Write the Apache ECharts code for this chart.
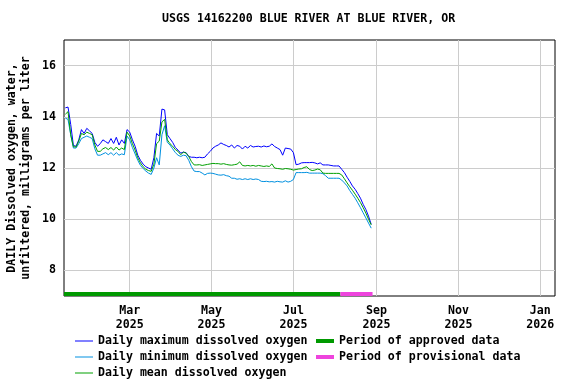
<!DOCTYPE html>
<html>
<head>
<meta charset="utf-8">
<script src="https://cdn.jsdelivr.net/npm/echarts@6/dist/echarts.min.js"></script>
<style>html,body{margin:0;padding:0;background:#fff;}#c{width:576px;height:384px;}</style>
</head>
<body>
<div id="c"></div>
<script>
// ---- data ----
const titleText = 'USGS 14162200 BLUE RIVER AT BLUE RIVER, OR';
const yAxisTitle = 'DAILY Dissolved oxygen, water,\nunfiltered, milligrams per liter';
const seriesNames = ['Daily maximum dissolved oxygen', 'Daily minimum dissolved oxygen', 'Daily mean dissolved oxygen'];
const periodNames = ['Period of approved data', 'Period of provisional data'];
const firstDate = [2025, 0, 12];   // first daily value shown
const dayStep = 2;                 // values are read every second day
const axisStart = [2025, 0, 11];
const axisEnd = [2026, 0, 12];
const yTicks = [8, 10, 12, 14, 16];
const xTickDates = [[2025, 2, 1], [2025, 4, 1], [2025, 6, 1], [2025, 8, 1], [2025, 10, 1], [2026, 0, 1]];
const monthNames = ['Jan','Feb','Mar','Apr','May','Jun','Jul','Aug','Sep','Oct','Nov','Dec'];
const approvedPeriod = [[2025, 0, 11], [2025, 7, 5]];
const provisionalPeriod = [[2025, 7, 5], [2025, 7, 29]];

const maxVals = [
14.35, 14.38, 13.7, 12.88, 12.85, 13.1, 13.5, 13.35, 13.55, 13.45,
13.35, 13.0, 12.85, 12.95, 13.1, 13.03, 12.96, 13.15, 12.96, 13.2,
12.9, 13.1, 12.96, 13.5, 13.4, 13.1, 12.85, 12.5, 12.3, 12.15,
12.05, 12.0, 11.95, 12.4, 13.35, 13.25, 14.3, 14.27, 13.3, 13.15,
13.0, 12.8, 12.7, 12.58, 12.62, 12.6, 12.45, 12.42, 12.42, 12.4,
12.42, 12.4, 12.42, 12.55, 12.65, 12.78, 12.85, 12.9, 12.98, 12.92,
12.88, 12.82, 12.9, 12.78, 12.88, 12.85, 12.74, 12.85, 12.78, 12.88,
12.82, 12.84, 12.85, 12.82, 12.86, 12.83, 12.85, 12.94, 12.84, 12.78,
12.72, 12.5, 12.78, 12.76, 12.74, 12.6, 12.13, 12.15, 12.2, 12.21,
12.21, 12.21, 12.22, 12.2, 12.16, 12.2, 12.12, 12.12, 12.12, 12.1,
12.08, 12.08, 12.08, 11.95, 11.82, 11.64, 11.48, 11.3, 11.17, 11.0, 10.82, 10.58, 10.38, 10.12, 9.8
];
const meanVals = [
14.1, 14.2, 13.3, 12.83, 12.82, 13.05, 13.35, 13.3, 13.4, 13.35,
13.3, 12.9, 12.65, 12.65, 12.75, 12.8, 12.72, 12.8, 12.7, 12.82,
12.7, 12.78, 12.72, 13.4, 13.25, 12.95, 12.7, 12.4, 12.2, 12.05,
11.95, 11.9, 11.87, 12.15, 12.95, 13.05, 13.8, 13.9, 13.1, 12.95,
12.85, 12.72, 12.65, 12.52, 12.62, 12.58, 12.45, 12.25, 12.12, 12.12,
12.13, 12.1, 12.12, 12.14, 12.16, 12.18, 12.17, 12.17, 12.15, 12.17,
12.14, 12.12, 12.11, 12.13, 12.15, 12.24, 12.1, 12.08, 12.1, 12.08,
12.1, 12.07, 12.1, 12.08, 12.06, 12.08, 12.06, 12.16, 12.0, 11.98,
11.97, 11.95, 11.98, 11.97, 11.95, 11.92, 11.94, 11.96, 11.97, 12.02,
12.05, 11.94, 11.9, 11.92, 11.96, 11.93, 11.8, 11.79, 11.79, 11.79,
11.79, 11.79, 11.79, 11.73, 11.58, 11.42, 11.27, 11.13, 10.98, 10.82, 10.65, 10.45, 10.24, 10.0, 9.78
];
const minVals = [
13.95, 13.9, 13.3, 12.78, 12.78, 12.95, 13.15, 13.2, 13.25, 13.2,
13.15, 12.75, 12.5, 12.5, 12.55, 12.6, 12.52, 12.6, 12.5, 12.6,
12.5, 12.55, 12.52, 13.25, 13.1, 12.8, 12.55, 12.3, 12.1, 11.98,
11.88, 11.8, 11.75, 12.0, 12.4, 12.12, 13.3, 13.65, 13.0, 12.9,
12.75, 12.6, 12.5, 12.45, 12.5, 12.48, 12.3, 12.05, 11.88, 11.86,
11.86, 11.8, 11.73, 11.79, 11.8, 11.79, 11.76, 11.73, 11.72, 11.74,
11.7, 11.68, 11.6, 11.6, 11.56, 11.58, 11.55, 11.58, 11.55, 11.58,
11.55, 11.57, 11.55, 11.48, 11.47, 11.48, 11.46, 11.47, 11.45, 11.48,
11.46, 11.45, 11.5, 11.45, 11.48, 11.55, 11.82, 11.82, 11.82, 11.82,
11.83, 11.8, 11.8, 11.8, 11.8, 11.8, 11.78, 11.7, 11.6, 11.6,
11.6, 11.6, 11.6, 11.53, 11.42, 11.3, 11.12, 10.97, 10.82, 10.64, 10.45, 10.25, 10.05, 9.85, 9.65
];

// ---- build ----
function ts(a) { return new Date(a[0], a[1], a[2]).getTime(); }
function pairs(vals) {
  return vals.map(function (v, i) {
    return [new Date(firstDate[0], firstDate[1], firstDate[2] + i * dayStep).getTime(), v];
  });
}
const FONT = 'DejaVu Sans Mono';
const FS = 11.6;
const barLevel = 7.08;
const xTicks = xTickDates.map(ts);

const chart = echarts.init(document.getElementById('c'), null, { renderer: 'canvas' });
chart.setOption({
  animation: false,
  backgroundColor: '#ffffff',
  textStyle: { fontFamily: FONT, fontWeight: 'bold', fontSize: FS, color: '#000' },
  title: {
    text: titleText, left: 162, top: 13, padding: 0,
    textStyle: { fontFamily: FONT, fontWeight: 'bold', fontSize: FS, color: '#000' }
  },
  grid: { left: 64, right: 21, top: 40, bottom: 88, outerBoundsMode: 'none', containLabel: false,
    show: true, borderColor: '#000', borderWidth: 1, backgroundColor: 'transparent' },
  xAxis: {
    type: 'value', min: ts(axisStart), max: ts(axisEnd), scale: true,
    axisLine: { show: false },
    axisTick: { show: false, customValues: xTicks },
    splitLine: { show: true, lineStyle: { color: '#cccccc', width: 1 } },
    axisLabel: {
      customValues: xTicks, margin: 8, lineHeight: 14,
      fontFamily: FONT, fontWeight: 'bold', fontSize: FS, color: '#000',
      formatter: function (v) { const d = new Date(v); return monthNames[d.getMonth()] + '\n' + d.getFullYear(); }
    }
  },
  yAxis: {
    type: 'value', min: 7, max: 17,
    name: yAxisTitle, nameLocation: 'middle', nameRotate: 90, nameGap: 31, nameMoveOverlap: false,
    nameTextStyle: { fontFamily: FONT, fontWeight: 'bold', fontSize: FS, color: '#000', lineHeight: 14 },
    axisLine: { show: false },
    axisTick: { show: false, customValues: yTicks },
    splitLine: { show: true, lineStyle: { color: '#cccccc', width: 1 } },
    axisLabel: { customValues: yTicks, margin: 8, fontFamily: FONT, fontWeight: 'bold', fontSize: FS, color: '#000' }
  },
  legend: [
    {
      data: seriesNames, orient: 'vertical', left: 75, top: 333, padding: 0, itemGap: 0,
      itemWidth: 18, itemHeight: 1, icon: 'rect', selectedMode: false,
      textStyle: { fontFamily: FONT, fontWeight: 'bold', fontSize: FS, color: '#000', lineHeight: 16 }
    },
    {
      data: periodNames, orient: 'vertical', left: 316, top: 333, padding: 0, itemGap: 0,
      itemWidth: 18, itemHeight: 4, icon: 'rect', selectedMode: false,
      textStyle: { fontFamily: FONT, fontWeight: 'bold', fontSize: FS, color: '#000', lineHeight: 16 }
    }
  ],
  series: [
    { name: seriesNames[0], type: 'line', data: pairs(maxVals), showSymbol: false, symbol: 'none',
      color: '#0000ff', lineStyle: { width: 1, color: '#0000ff' } },
    { name: seriesNames[1], type: 'line', data: pairs(minVals), showSymbol: false, symbol: 'none',
      color: '#0090e0', lineStyle: { width: 1, color: '#0090e0' } },
    { name: seriesNames[2], type: 'line', data: pairs(meanVals), showSymbol: false, symbol: 'none',
      color: '#00a000', lineStyle: { width: 1, color: '#00a000' } },
    { name: periodNames[0], type: 'line', clip: false, showSymbol: false, symbol: 'none',
      data: approvedPeriod.map(function (d) { return [ts(d), barLevel]; }),
      color: '#009900', lineStyle: { width: 4, color: '#009900' } },
    { name: periodNames[1], type: 'line', clip: false, showSymbol: false, symbol: 'none',
      data: provisionalPeriod.map(function (d) { return [ts(d), barLevel]; }),
      color: '#ee44dd', lineStyle: { width: 4, color: '#ee44dd' } }
  ]
});
</script>
</body>
</html>
